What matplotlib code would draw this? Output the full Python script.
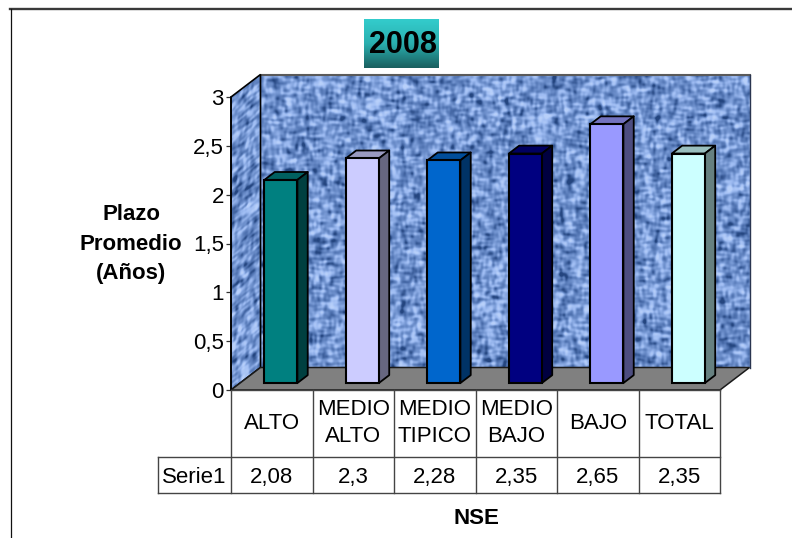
import numpy as np
import matplotlib
matplotlib.use("Agg")
from matplotlib.colors import LinearSegmentedColormap, to_rgb
from matplotlib.patches import Polygon
from matplotlib.transforms import Affine2D
import matplotlib.pyplot as plt

plt.rcParams['font.family'] = ['Liberation Sans', 'DejaVu Sans']

categories = ['ALTO', 'MEDIO\nALTO', 'MEDIO\nTIPICO', 'MEDIO\nBAJO', 'BAJO', 'TOTAL']
values = [2.08, 2.3, 2.28, 2.35, 2.65, 2.35]
value_labels = ['2,08', '2,3', '2,28', '2,35', '2,65', '2,35']
bar_colors = ['#008080', '#CCCCFF', '#0066CC', '#000080', '#9999FF', '#CCFFFF']
yticks = [0, 0.5, 1, 1.5, 2, 2.5, 3]
ytick_labels = ['0', '0,5', '1', '1,5', '2', '2,5', '3']
series_name = 'Serie1'

W, H = 792, 538
# front plane of the 3D box, in pixels
LEFT, RIGHT, BASE, TOP = 231, 720, 390, 97
DEPTH_X = 29.5 / 81.5    # box depth in category units
DEPTH_Y = 22.5 / 97.67   # box depth in value units
BAR_W = 0.405
BAR_NEAR, BAR_FAR = 0.31, 0.66   # bar front/back as a fraction of box depth
FONT = 16


def shade(color, k):
    return tuple(c * k for c in to_rgb(color))


def blur(a, n, axis):
    kernel = np.hanning(n + 2)[1:-1]
    kernel /= kernel.sum()
    return np.apply_along_axis(lambda r: np.convolve(r, kernel, mode='same'), axis, a)


def cloth(h, w, seed):
    # woven look: short streaks in both directions on top of each other
    rng = np.random.default_rng(seed)
    across = blur(rng.normal(size=(h, w)), 13, 1)
    down = blur(rng.normal(size=(h, w)), 11, 0)
    a = across / across.std() + down / down.std()
    a = blur(blur(a, 5, 0), 5, 1)
    return (a - a.mean()) / a.std()


cloth_cmap = LinearSegmentedColormap.from_list(
    'cloth', ['#24457F', '#4F72B0', '#7294D0', '#9DBBF2', '#B8D0FA'])

fig = plt.figure(figsize=(W / 100, H / 100), dpi=100)
ax = fig.add_axes([LEFT / W, 1 - BASE / H, (RIGHT - LEFT) / W, (BASE - TOP) / H])
ax.patch.set_visible(False)

# back wall
wall = cloth(300, 500, 4)
ax.imshow(wall, cmap=cloth_cmap, vmin=-2.6, vmax=2.6, aspect='auto', interpolation='bilinear',
          extent=(DEPTH_X, len(categories) + DEPTH_X, DEPTH_Y, 3 + DEPTH_Y), clip_on=False, zorder=1)
ax.plot([DEPTH_X, len(categories) + DEPTH_X], [3 + DEPTH_Y] * 2, color='#5A5A5A', lw=1.5,
        clip_on=False, zorder=2)
ax.plot([len(categories) + DEPTH_X] * 2, [DEPTH_Y, 3 + DEPTH_Y], color='#2A3550', lw=1.0,
        clip_on=False, zorder=2)

# side wall, the same cloth sheared back along the depth
side_pts = [(0, 0), (DEPTH_X, DEPTH_Y), (DEPTH_X, 3 + DEPTH_Y), (0, 3)]
side_img = ax.imshow(cloth(300, 30, 9), cmap=cloth_cmap, vmin=-2.6, vmax=2.6, aspect='auto',
                     interpolation='bilinear', extent=(0, DEPTH_X, 0, 3), zorder=1)
side_img.set_transform(Affine2D().from_values(1, DEPTH_Y / DEPTH_X, 0, 1, 0, 0) + ax.transData)
side_img.set_clip_box(fig.bbox)
side_img.set_clip_path(Polygon(side_pts, transform=ax.transData))
ax.add_patch(Polygon(side_pts, fill=False, ec='black', lw=1.2, clip_on=False, zorder=2))
ax.set_xlim(0, len(categories))
ax.set_ylim(0, 3)

# floor
ax.add_patch(Polygon([(0, 0), (len(categories), 0), (len(categories) + DEPTH_X, DEPTH_Y), (DEPTH_X, DEPTH_Y)],
                     fc='#808080', ec='#1A1A1A', lw=1.1, clip_on=False, zorder=3))

# bars: front face through ax.bar, then the top and the right side
near_x, near_y = BAR_NEAR * DEPTH_X, BAR_NEAR * DEPTH_Y
far_x, far_y = BAR_FAR * DEPTH_X, BAR_FAR * DEPTH_Y
step_x, step_y = far_x - near_x, far_y - near_y
centers = np.arange(len(categories)) + 0.5 + near_x
ax.bar(centers, values, width=BAR_W, bottom=near_y, color=bar_colors, edgecolor='black', linewidth=1.5,
       clip_on=False, zorder=5)
for cx, v, col in zip(centers, values, bar_colors):
    x0, x1 = cx - BAR_W / 2, cx + BAR_W / 2
    y0, y1 = near_y, near_y + v
    ax.add_patch(Polygon([(x0, y1), (x1, y1), (x1 + step_x, y1 + step_y), (x0 + step_x, y1 + step_y)],
                         fc=shade(col, 0.75), ec='black', lw=1.3, joinstyle='round', clip_on=False, zorder=4))
    ax.add_patch(Polygon([(x1, y0), (x1 + step_x, y0 + step_y), (x1 + step_x, y1 + step_y), (x1, y1)],
                         fc=shade(col, 0.5), ec='black', lw=1.3, joinstyle='round', clip_on=False, zorder=4))

# value axis
for name, spine in ax.spines.items():
    spine.set_visible(name == 'left')
ax.spines['left'].set_linewidth(1.1)
ax.spines['left'].set_zorder(6)
ax.set_xticks([])
ax.set_yticks(yticks)
ax.set_yticklabels(ytick_labels, fontsize=FONT)
ax.tick_params(axis='y', length=3.6, width=0.9, pad=1.5, color='#333333')

# overlay in pixels for the frame, title box, axis titles and data table
page = fig.add_axes([0, 0, 1, 1], zorder=10)
page.axis('off')
page.plot([10, W], [9, 9], color='#3A3A3A', lw=1.7)
page.plot([10.5, 10.5], [9, H], color='#111111', lw=0.9)

grad = np.linspace(0, 1, 50)[:, None]
title_cmap = LinearSegmentedColormap.from_list('title_box', ['#33CCCC', '#2AAFAF', '#1A6060'])
page.imshow(grad, cmap=title_cmap, aspect='auto', extent=(364, 439, 68, 19), zorder=1)
page.set_xlim(0, W)
page.set_ylim(H, 0)
page.text(403.5, 45, '2008', fontsize=22, fontweight='bold', ha='center', va='center', zorder=2)

page.text(131, 244, 'Plazo\nPromedio\n(Años)', fontsize=FONT, fontweight='bold', ha='center', va='center',
          linespacing=1.5)
page.text(476, 518, 'NSE', fontsize=FONT, fontweight='bold', ha='center', va='center')

# data table below the floor
TABLE_MID, TABLE_BOTTOM, TABLE_LEFT = 456.5, 493, 158
slot = (RIGHT - LEFT) / len(categories)
line_style = dict(color='#444444', lw=1.0)
page.plot([LEFT, RIGHT], [BASE, BASE], **line_style)
page.plot([TABLE_LEFT, RIGHT], [TABLE_MID, TABLE_MID], **line_style)
page.plot([TABLE_LEFT, RIGHT], [TABLE_BOTTOM, TABLE_BOTTOM], **line_style)
page.plot([TABLE_LEFT, TABLE_LEFT], [TABLE_MID, TABLE_BOTTOM], **line_style)
for i in range(len(categories) + 1):
    page.plot([LEFT + i * slot] * 2, [BASE, TABLE_BOTTOM], **line_style)
for i, (cat, lab) in enumerate(zip(categories, value_labels)):
    cx = LEFT + (i + 0.5) * slot
    page.text(cx, (BASE + TABLE_MID) / 2, cat, fontsize=FONT, ha='center', va='center', linespacing=1.35)
    page.text(cx, (TABLE_MID + TABLE_BOTTOM) / 2 + 2.5, lab, fontsize=FONT, ha='center', va='center')
page.text((TABLE_LEFT + LEFT) / 2, (TABLE_MID + TABLE_BOTTOM) / 2 + 2.5, series_name, fontsize=FONT,
          ha='center', va='center')

fig.savefig('out.png', dpi=100, facecolor='white')
